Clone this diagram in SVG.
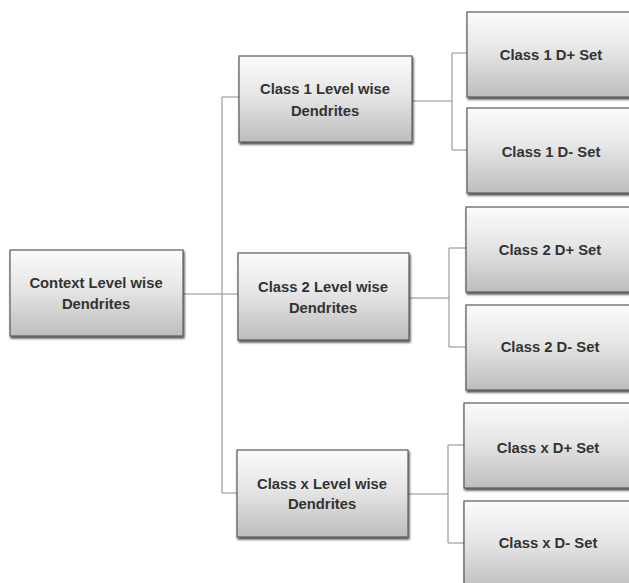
<svg xmlns="http://www.w3.org/2000/svg" width="629" height="583" viewBox="0 0 629 583">
<defs>
<linearGradient id="g" x1="0" y1="0" x2="0" y2="1">
<stop offset="0" stop-color="#fbfbfb"/>
<stop offset="0.45" stop-color="#e6e6e6"/>
<stop offset="1" stop-color="#bdbdbd"/>
</linearGradient>
<filter id="sh" x="-10%" y="-10%" width="125%" height="130%">
<feDropShadow dx="1" dy="2" stdDeviation="1" flood-color="#000" flood-opacity="0.7"/>
</filter>
</defs>
<style>
.box{fill:url(#g);stroke:#5a5a5a;stroke-width:1.2;filter:url(#sh)}
.t{font-family:"Liberation Sans",Arial,sans-serif;font-weight:bold;font-size:14.8px;fill:#333;text-anchor:middle}
.c{fill:none;stroke:#8a8a8a;stroke-width:1}
</style>
<rect width="629" height="583" fill="#ffffff"/>
<g id="connectors">
<path class="c" d="M183,294 H238"/>
<path class="c" d="M222,97 V493"/>
<path class="c" d="M222,97 H239"/>
<path class="c" d="M222,493 H237"/>
<path class="c" d="M412,101 H452"/>
<path class="c" d="M452,53 V150"/>
<path class="c" d="M452,53 H467"/>
<path class="c" d="M452,150 H467"/>
<path class="c" d="M409,298 H449"/>
<path class="c" d="M449,248 V347"/>
<path class="c" d="M449,248 H466"/>
<path class="c" d="M449,347 H466"/>
<path class="c" d="M408,494 H448"/>
<path class="c" d="M448,445 V543"/>
<path class="c" d="M448,445 H464"/>
<path class="c" d="M448,543 H464"/>
</g>
<g id="context">
<rect class="box" x="10" y="250" width="173" height="86"/>
<text class="t" x="96" y="288">Context Level wise</text>
<text class="t" x="96" y="309">Dendrites</text>
</g>
<g id="class1">
<rect class="box" x="239" y="56" width="173" height="86"/>
<text class="t" x="325" y="94">Class 1 Level wise</text>
<text class="t" x="325" y="116">Dendrites</text>
</g>
<g id="class2">
<rect class="box" x="238" y="253" width="171" height="87"/>
<text class="t" x="323" y="292">Class 2 Level wise</text>
<text class="t" x="323" y="313">Dendrites</text>
</g>
<g id="classx">
<rect class="box" x="237" y="450" width="171" height="87"/>
<text class="t" x="322" y="489">Class x Level wise</text>
<text class="t" x="322" y="509">Dendrites</text>
</g>
<g id="c1plus">
<rect class="box" x="467" y="12" width="170" height="85"/>
<text class="t" x="551" y="60">Class 1 D+ Set</text>
</g>
<g id="c1minus">
<rect class="box" x="467" y="108" width="170" height="85"/>
<text class="t" x="551" y="157">Class 1 D- Set</text>
</g>
<g id="c2plus">
<rect class="box" x="466" y="207" width="170" height="85"/>
<text class="t" x="550" y="255">Class 2 D+ Set</text>
</g>
<g id="c2minus">
<rect class="box" x="466" y="305" width="170" height="85"/>
<text class="t" x="550" y="352">Class 2 D- Set</text>
</g>
<g id="cxplus">
<rect class="box" x="464" y="403" width="170" height="85"/>
<text class="t" x="548" y="453">Class x D+ Set</text>
</g>
<g id="cxminus">
<rect class="box" x="464" y="501" width="170" height="90"/>
<text class="t" x="548" y="548">Class x D- Set</text>
</g>
</svg>
